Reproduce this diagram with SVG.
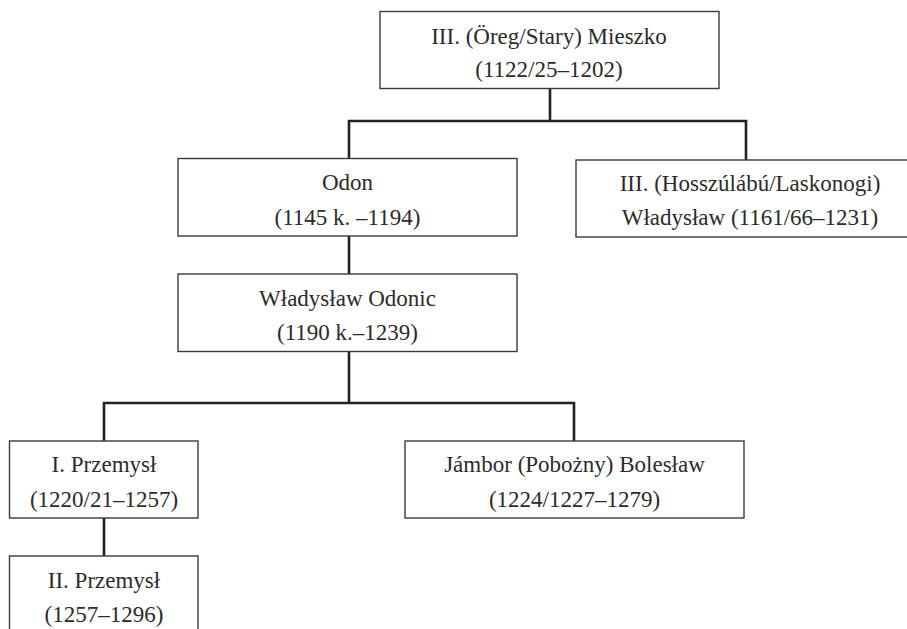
<svg xmlns="http://www.w3.org/2000/svg" width="907" height="629" viewBox="0 0 907 629">
<style>
.box{fill:#ffffff;stroke:#3a3a3a;stroke-width:1.4}
.lbl{font-family:"Liberation Serif","DejaVu Serif",serif;font-size:23px;fill:#2b2b2b;text-anchor:middle}
.con{fill:none;stroke:#222222;stroke-width:2.6;stroke-linejoin:miter}
</style>
<rect width="907" height="629" fill="#ffffff"/>
<g id="connectors">
<path class="con" d="M550,88 V121 M349,158 V121 H746 V160"/>
<path class="con" d="M349,236 V274"/>
<path class="con" d="M349,351 V403 M104,441 V403 H574 V441"/>
<path class="con" d="M104,518 V556"/>
</g>
<g id="mieszko">
<rect class="box" x="380" y="11.5" width="339" height="77"/>
<text class="lbl" x="549" y="43.5">III. (Öreg/Stary) Mieszko</text>
<text class="lbl" x="549" y="77">(1122/25–1202)</text>
</g>
<g id="odon">
<rect class="box" x="178" y="158.5" width="339" height="77.5"/>
<text class="lbl" x="347.5" y="190">Odon</text>
<text class="lbl" x="347.5" y="225">(1145 k. –1194)</text>
</g>
<g id="wladyslaw3">
<rect class="box" x="576" y="160" width="350" height="77"/>
<text class="lbl" x="750" y="191">III. (Hosszúlábú/Laskonogi)</text>
<text class="lbl" x="750" y="225">Władysław (1161/66–1231)</text>
</g>
<g id="odonic">
<rect class="box" x="178" y="274" width="339" height="77.5"/>
<text class="lbl" x="347.5" y="305.5">Władysław Odonic</text>
<text class="lbl" x="347.5" y="340">(1190 k.–1239)</text>
</g>
<g id="przemysl1">
<rect class="box" x="9.5" y="441" width="188.5" height="77"/>
<text class="lbl" x="104" y="472">I. Przemysł</text>
<text class="lbl" x="104" y="507">(1220/21–1257)</text>
</g>
<g id="boleslaw">
<rect class="box" x="405" y="441" width="339" height="77"/>
<text class="lbl" x="574.5" y="472">Jámbor (Pobożny) Bolesław</text>
<text class="lbl" x="574.5" y="507">(1224/1227–1279)</text>
</g>
<g id="przemysl2">
<rect class="box" x="9.5" y="556" width="188.5" height="90"/>
<text class="lbl" x="104" y="588">II. Przemysł</text>
<text class="lbl" x="104" y="622">(1257–1296)</text>
</g>
</svg>
